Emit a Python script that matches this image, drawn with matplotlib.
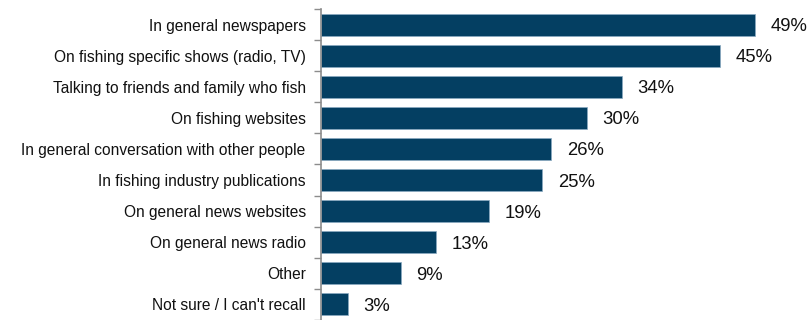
import numpy as np
import matplotlib.pyplot as plt

# Where respondents heard about it (% of respondents)
sources = [
    'In general newspapers',
    'On fishing specific shows (radio, TV)',
    'Talking to friends and family who fish',
    'On fishing websites',
    'In general conversation with other people',
    'In fishing industry publications',
    'On general news websites',
    'On general news radio',
    'Other',
    'Not sure / I can\'t recall',
]
percent = [49, 45, 34, 30, 26, 25, 19, 13, 9, 3]

plt.rcParams['font.family'] = ['Liberation Sans', 'DejaVu Sans']

fig = plt.figure(figsize=(8.1, 3.2), dpi=100)
ax = fig.add_axes([321 / 810, 0.0, 1 - 321 / 810, 1 - 9 / 320])

y = np.arange(len(sources))
ax.barh(y, percent, height=0.71, color='#043F62', edgecolor='#8aaac2', linewidth=0.5)

for yi, v in zip(y, percent):
    ax.text(v + 1.75, yi, f'{v}%', va='center_baseline', ha='left', fontsize=13.3, color='#111111')

ax.set_xlim(0, 55.2)
ax.set_ylim(9.30, -0.5)

# category names centred on bars, tick marks on the boundaries
ax.set_yticks(y)
ax.set_yticklabels(sources, fontsize=11.2, color='#111111')
ax.tick_params(axis='y', which='major', length=0, pad=11)
ax.set_yticks(np.arange(-0.5, len(sources)), minor=True)
ax.tick_params(axis='y', which='minor', length=5, width=1, color='#8c8c8c', direction='out')
ax.set_xticks([])

for s in ['top', 'right', 'bottom']:
    ax.spines[s].set_visible(False)
ax.spines['left'].set_color('#8c8c8c')
ax.spines['left'].set_linewidth(1.2)

fig.savefig('out.png', dpi=100)
